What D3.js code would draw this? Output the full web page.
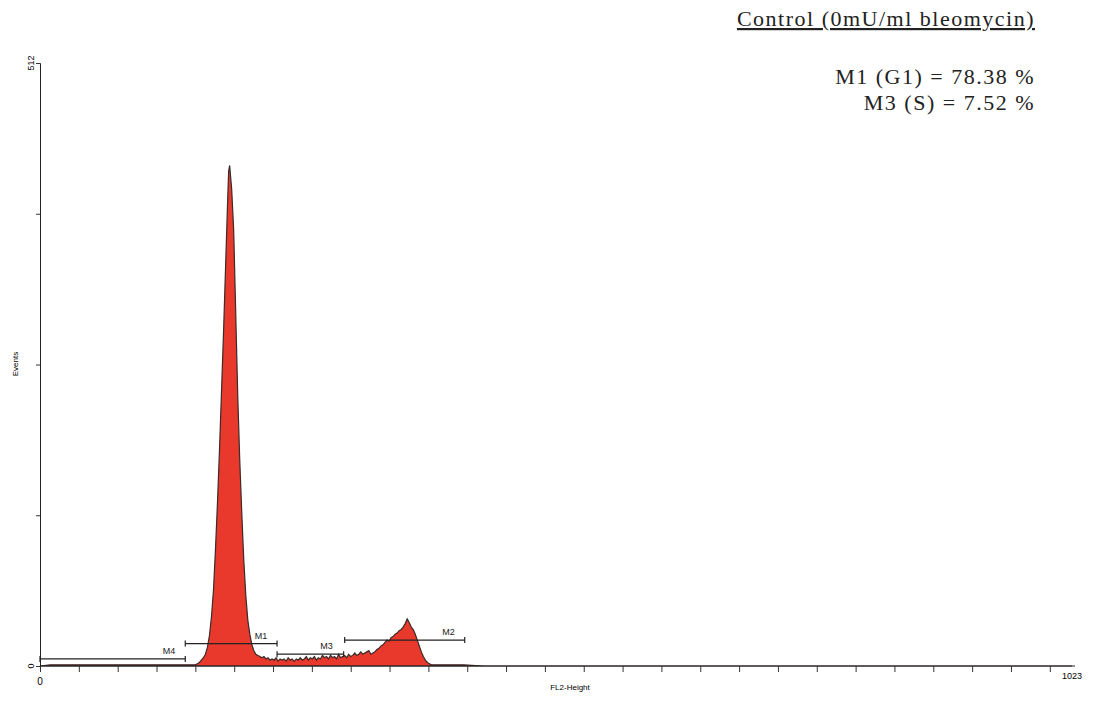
<!DOCTYPE html>
<html><head><meta charset="utf-8">
<script src="https://cdn.jsdelivr.net/npm/d3@7"></script>
<style>body{margin:0;background:#fff}</style>
</head><body>
<script>
// histogram: channel / events
var channels = [0,10,20,40,60,80,100,120,140,150,154,156,158,160,162,164,166,168,170,172,174,176,178,180,182,184,186,187,188,189,190,192,194,196,198,200,202,204,206,208,210,212,214,216,218,220,222,224,226,228,230,232,234,236,238,240,242,244,246,248,250,252,254,256,258,260,262,264,266,268,270,272,274,276,278,280,282,284,286,288,290,292,294,296,298,300,302,304,306,308,310,312,314,316,318,320,322,324,326,328,330,332,334,336,338,340,342,344,346,348,350,352,354,356,358,360,362,364,366,368,370,372,374,376,378,380,382,384,386,388,392,400,410,420,440,460,500,600,700,800,900,1023];
var counts   = [0,1,1,1,1,1,1,1,1,1,1,2,3,5,7,10,16,26,42,65,100,140,185,235,285,340,395,420,425,415,405,370,300,230,175,130,90,60,39,27,18,13,10,9,8,7,8,6,7,5,6,5,7,4,6,5,6,4,7,5,6,4,6,5,7,5,6,8,5,7,6,8,5,7,6,9,7,8,6,9,7,8,6,10,7,8,9,7,10,8,9,11,9,10,12,10,11,12,13,10,11,12,14,15,17,18,20,22,21,24,25,27,28,30,31,33,36,40,37,33,31,27,22,17,12,8,5,3,2,1,1,1,1,1,0,0,0,0,0,0,0,0];
var markers = [
  {name:"M4", from:0, to:144, level:6, lx:128},
  {name:"M1", from:144, to:235, level:19, lx:219},
  {name:"M3", from:235, to:301, level:10, lx:284},
  {name:"M2", from:302, to:421, level:22, lx:405}
];
var xTicks = d3.range(0, 1023, 38.5);
var yTicks = [0,128,256,384,512];

var W = 1093, H = 705;
var svg = d3.select('body').append('svg').attr('width', W).attr('height', H);
var x = d3.scaleLinear().domain([0,1023]).range([40,1072]);
var y = d3.scaleLinear().domain([0,512]).range([666,63]);
var data = channels.map(function(c,i){ return [c, counts[i]]; });

svg.append('path').datum(data)
   .attr('d', d3.area().x(function(d){return x(d[0]);}).y0(y(0)).y1(function(d){return y(d[1]);}))
   .attr('fill', '#e8392c').attr('stroke', '#3a2a28').attr('stroke-width', 1.2);

// axes
var xa = svg.append('g').attr('transform','translate(0,666)')
   .call(d3.axisBottom(x).tickValues(xTicks).tickSize(6).tickFormat(''));
xa.select('.domain').attr('d','M40,0H1075');
var ya = svg.append('g').attr('transform','translate(40,0)')
   .call(d3.axisLeft(y).tickValues(yTicks).tickSize(4).tickFormat(''));
svg.selectAll('.domain').attr('stroke','#222');
svg.selectAll('.tick line').attr('stroke','#333');

var sans = 'Liberation Sans, Arial, sans-serif';
svg.append('text').attr('x',40).attr('y',685).attr('text-anchor','middle').attr('font-family',sans).attr('font-size',10).text('0');
svg.append('text').attr('x',1072).attr('y',679).attr('text-anchor','middle').attr('font-family',sans).attr('font-size',9).text('1023');
svg.append('text').attr('x',570).attr('y',690).attr('text-anchor','middle').attr('font-family',sans).attr('font-size',8).text('FL2-Height');
svg.append('text').attr('transform','translate(18,364) rotate(-90)').attr('text-anchor','middle').attr('font-family',sans).attr('font-size',8).text('Events');
svg.append('text').attr('transform','translate(34,63) rotate(-90)').attr('text-anchor','middle').attr('font-family',sans).attr('font-size',9).text('512');
svg.append('text').attr('transform','translate(34,666) rotate(-90)').attr('text-anchor','middle').attr('font-family',sans).attr('font-size',9).text('0');

// markers
var mg = svg.selectAll('.mk').data(markers).enter().append('g').attr('stroke','#222').attr('stroke-width',1.2);
mg.append('line').attr('x1',function(d){return x(d.from);}).attr('x2',function(d){return x(d.to);})
  .attr('y1',function(d){return y(d.level);}).attr('y2',function(d){return y(d.level);});
mg.append('line').attr('x1',function(d){return x(d.from);}).attr('x2',function(d){return x(d.from);})
  .attr('y1',function(d){return y(d.level)-3;}).attr('y2',function(d){return y(d.level)+3;});
mg.append('line').attr('x1',function(d){return x(d.to);}).attr('x2',function(d){return x(d.to);})
  .attr('y1',function(d){return y(d.level)-3;}).attr('y2',function(d){return y(d.level)+3;});
svg.selectAll('.ml').data(markers).enter().append('text')
  .attr('x',function(d){return x(d.lx);}).attr('y',function(d){return y(d.level)-5;})
  .attr('text-anchor','middle').attr('font-family',sans).attr('font-size',9).attr('fill','#222')
  .text(function(d){return d.name;});

// annotations
var serif = 'Liberation Serif, Times New Roman, serif';
function note(t, yy, ul){
  svg.append('text').attr('x',1035).attr('y',yy).attr('text-anchor','end').attr('font-family',serif).attr('font-size',22)
     .attr('letter-spacing',1.5).attr('fill','#222')
     .attr('text-decoration', ul ? 'underline' : null).text(t);
}
note('Control (0mU/ml bleomycin)', 26, true);
note('M1 (G1) = 78.38 %', 84, false);
note('M3 (S) = 7.52 %', 110, false);
</script>
</body></html>
